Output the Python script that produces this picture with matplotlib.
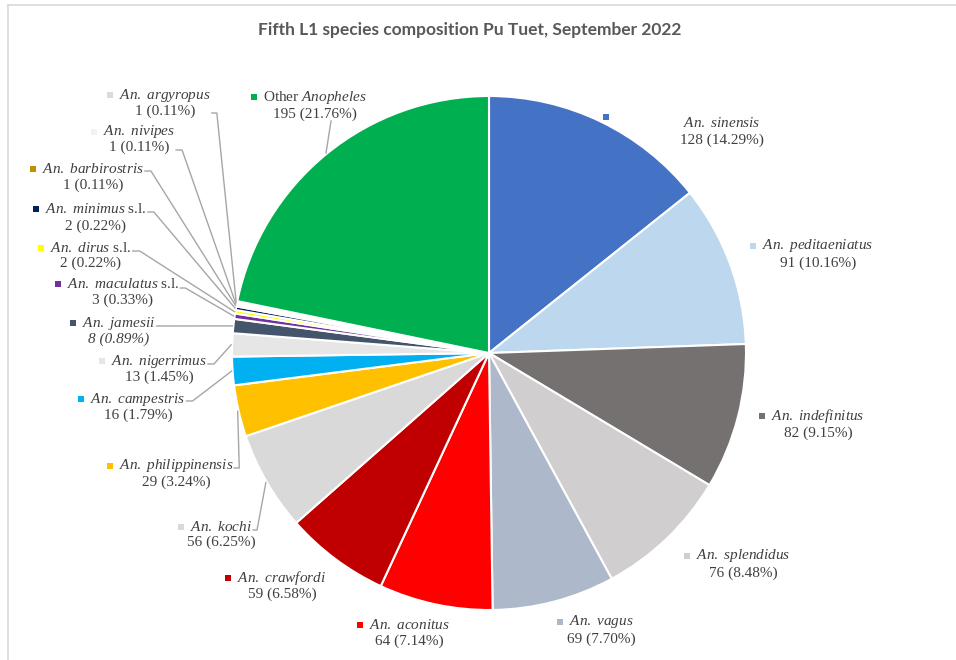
import numpy as np
import matplotlib.pyplot as plt
from matplotlib.lines import Line2D

# Anopheles species counts, clockwise from 12 o'clock
species = ["sinensis", "peditaeniatus", "indefinitus", "splendidus", "vagus",
           "aconitus", "crawfordi", "kochi", "philippinensis", "campestris",
           "nigerrimus", "jamesii", "maculatus", "dirus", "minimus",
           "barbirostris", "nivipes", "argyropus", "Other"]
counts = [128, 91, 82, 76, 69, 64, 59, 56, 29, 16, 13, 8, 3, 2, 2, 1, 1, 1, 195]
suffix = {"maculatus": " s.l.", "dirus": " s.l.", "minimus": " s.l."}
colors = ["#4472C4", "#BDD7EE", "#767171", "#D0CECE", "#ADB9CA",
          "#FF0000", "#C00000", "#D9D9D9", "#FFC000", "#00B0F0",
          "#E7E6E6", "#44546A", "#7030A0", "#FFFF00", "#002060",
          "#BF9000", "#F2F2F2", "#D6DCE4", "#00B050"]

# label placement in pixels: name centre x, line 1 y, line 2 y
label_pos = {
    "sinensis": (722, 123, 140), "peditaeniatus": (818, 246, 263),
    "indefinitus": (818, 416, 433), "splendidus": (743, 556, 573),
    "vagus": (601, 622, 639), "aconitus": (409, 625, 641),
    "crawfordi": (282, 578, 594), "kochi": (221, 527, 542),
    "philippinensis": (176, 466, 482), "campestris": (138, 399, 415),
    "nigerrimus": (159, 361, 377), "jamesii": (119, 323, 339),
    "maculatus": (123, 284, 300), "dirus": (91, 248, 263),
    "minimus": (96, 209, 226), "barbirostris": (93, 169, 185),
    "nivipes": (139, 132, 147), "argyropus": (165, 95, 111),
    "Other": (315, 97, 114),
}
# leader lines: short stub after the name (length, y), then on to the slice edge
leaders = {
    "kochi": (4, 530), "philippinensis": (5, 468),
    "campestris": (6, 401), "nigerrimus": (6, 364),
    "jamesii": (6, 326), "maculatus": (5, 288),
    "dirus": (7, 251), "minimus": (6, 212),
    "barbirostris": (6, 171), "nivipes": (6, 150),
    "argyropus": (5, 113),
}
other_leader = (331, 121)

W, H = 956, 660
cx, cy, R = 489, 353, 257
txt_col = "#404040"
fs = 11

plt.rcParams["mathtext.fontset"] = "custom"
plt.rcParams["mathtext.it"] = "Liberation Serif:italic"
plt.rcParams["mathtext.rm"] = "Liberation Serif"

fig = plt.figure(figsize=(W / 100, H / 100), dpi=100)
ax = fig.add_axes([0, 0, 1, 1])

wedges, _ = ax.pie(counts, colors=colors, startangle=90, counterclock=False,
                   center=(cx, H - cy), radius=R,
                   wedgeprops=dict(edgecolor="white", linewidth=1.5))
ax.set_xlim(0, W)
ax.set_ylim(0, H)
ax.set_aspect("equal")
ax.axis("off")

total = sum(counts)
renderer = fig.canvas.get_renderer()

for sp, n, col, w in zip(species, counts, colors, wedges):
    x, y1, y2 = label_pos[sp]
    if sp == "Other":
        name = r"Other $\mathit{Anopheles}$"
    else:
        name = r"$\mathit{An.\ " + sp + "}$" + suffix.get(sp, "")
    t = ax.text(x, H - y1, name, ha="center", va="center", fontsize=fs,
                family="Liberation Serif", color=txt_col)
    ax.text(x, H - y2, f"{n} ({n / total * 100:.2f}%)", ha="center",
            va="center", fontsize=fs, family="Liberation Serif",
            color=txt_col, style="italic" if sp == "jamesii" else "normal")
    bb = t.get_window_extent(renderer)
    # legend key beside the name
    if sp == "sinensis":
        kx, ky = 606, H - 117
    else:
        kx, ky = bb.x0 - 9, H - y1
    ax.scatter([kx], [ky], marker="s", s=14, color=col, linewidths=0, zorder=5)

    mid = np.deg2rad((w.theta1 + w.theta2) / 2)
    ex = cx + (R + 1) * np.cos(mid)
    ey = (H - cy) + (R + 1) * np.sin(mid)
    if sp in leaders:
        stub, ly = leaders[sp]
        x0 = bb.x1 + 1
        ax.plot([x0, x0 + stub, ex], [H - ly, H - ly, ey], color="#A6A6A6",
                lw=1, zorder=1)
    elif sp == "Other":
        ax.plot([other_leader[0], ex], [H - other_leader[1], ey],
                color="#A6A6A6", lw=1, zorder=1)

ax.text(470, H - 30, "Fifth L1 species composition Pu Tuet, September 2022",
        ha="center", va="center", fontsize=12.5, fontweight="bold",
        family="Lato", color="#595959")

# chart area border
fig.add_artist(Line2D([8 / W, 1], [1 - 5 / H, 1 - 5 / H], color="#D9D9D9", lw=1.2))
fig.add_artist(Line2D([8 / W, 8 / W], [0, 1 - 5 / H], color="#D9D9D9", lw=1.2))

fig.savefig("out.png", dpi=100)
